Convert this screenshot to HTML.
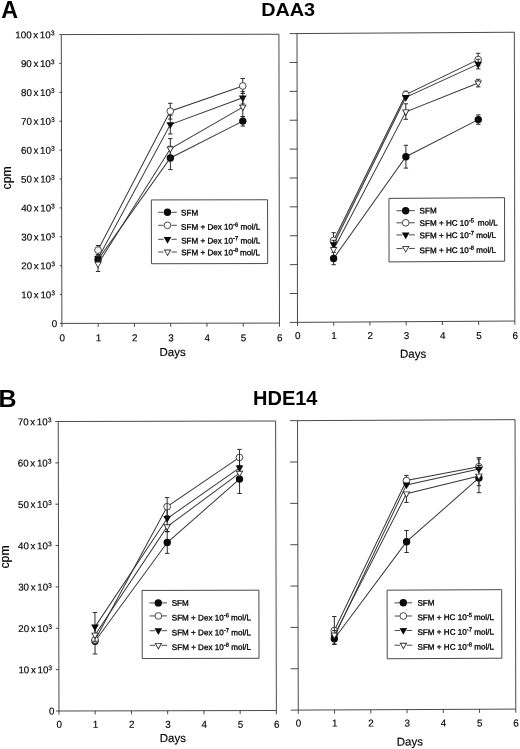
<!DOCTYPE html>
<html lang="en"><head><meta charset="utf-8"><title>Figure</title>
<style>html,body{margin:0;padding:0;background:#fff}svg{display:block;filter:grayscale(1)}</style></head>
<body>
<svg width="520" height="749" viewBox="0 0 520 749" font-family='"Liberation Sans", Arial, sans-serif' fill="#000">
<rect width="520" height="749" fill="#fff"/>
<text transform="translate(1.3,18) scale(1,1.005)" font-size="23.3" font-weight="bold" fill="#000">A</text>
<text transform="translate(261.2,15.9) scale(1,0.95)" font-size="19.8" font-weight="bold" fill="#000">DAA3</text>
<text transform="translate(-1.5,407.4) scale(1,0.99)" font-size="25" font-weight="bold" fill="#000">B</text>
<text x="253.0" y="404.8" font-size="20" font-weight="bold" fill="#000">HDE14</text>
<text transform="translate(11.1,177.8) rotate(-90)" text-anchor="middle" font-size="12.3" stroke="#000" stroke-width="0.15">cpm</text>
<text transform="translate(9.1,557) rotate(-90)" text-anchor="middle" font-size="12.3" stroke="#000" stroke-width="0.15">cpm</text>
<g transform="translate(170.40,178.82) matrix(1,-0.0015,0.002,1,0,0) translate(-170.40,-178.82)">
<rect x="61.6" y="34.4" width="217.60" height="288.85" fill="none" stroke="#2a2a2a" stroke-width="0.85"/>
<line x1="59.6" y1="323.25" x2="61.6" y2="323.25" stroke="#2a2a2a" stroke-width="0.85"/>
<text x="57.00" y="326.75" text-anchor="end" font-size="9.8" stroke="#000" stroke-width="0.15">0</text>
<line x1="59.6" y1="294.37" x2="61.6" y2="294.37" stroke="#2a2a2a" stroke-width="0.85"/>
<text x="54.90" y="297.97" text-anchor="end" font-size="9.8" word-spacing="-1.1" stroke="#000" stroke-width="0.15">10 x 10<tspan dy="-2.9" font-size="6.9">3</tspan></text>
<line x1="59.6" y1="265.48" x2="61.6" y2="265.48" stroke="#2a2a2a" stroke-width="0.85"/>
<text x="54.90" y="269.08" text-anchor="end" font-size="9.8" word-spacing="-1.1" stroke="#000" stroke-width="0.15">20 x 10<tspan dy="-2.9" font-size="6.9">3</tspan></text>
<line x1="59.6" y1="236.59" x2="61.6" y2="236.59" stroke="#2a2a2a" stroke-width="0.85"/>
<text x="54.90" y="240.19" text-anchor="end" font-size="9.8" word-spacing="-1.1" stroke="#000" stroke-width="0.15">30 x 10<tspan dy="-2.9" font-size="6.9">3</tspan></text>
<line x1="59.6" y1="207.71" x2="61.6" y2="207.71" stroke="#2a2a2a" stroke-width="0.85"/>
<text x="54.90" y="211.31" text-anchor="end" font-size="9.8" word-spacing="-1.1" stroke="#000" stroke-width="0.15">40 x 10<tspan dy="-2.9" font-size="6.9">3</tspan></text>
<line x1="59.6" y1="178.82" x2="61.6" y2="178.82" stroke="#2a2a2a" stroke-width="0.85"/>
<text x="54.90" y="182.42" text-anchor="end" font-size="9.8" word-spacing="-1.1" stroke="#000" stroke-width="0.15">50 x 10<tspan dy="-2.9" font-size="6.9">3</tspan></text>
<line x1="59.6" y1="149.94" x2="61.6" y2="149.94" stroke="#2a2a2a" stroke-width="0.85"/>
<text x="54.90" y="153.54" text-anchor="end" font-size="9.8" word-spacing="-1.1" stroke="#000" stroke-width="0.15">60 x 10<tspan dy="-2.9" font-size="6.9">3</tspan></text>
<line x1="59.6" y1="121.06" x2="61.6" y2="121.06" stroke="#2a2a2a" stroke-width="0.85"/>
<text x="54.90" y="124.66" text-anchor="end" font-size="9.8" word-spacing="-1.1" stroke="#000" stroke-width="0.15">70 x 10<tspan dy="-2.9" font-size="6.9">3</tspan></text>
<line x1="59.6" y1="92.17" x2="61.6" y2="92.17" stroke="#2a2a2a" stroke-width="0.85"/>
<text x="54.90" y="95.77" text-anchor="end" font-size="9.8" word-spacing="-1.1" stroke="#000" stroke-width="0.15">80 x 10<tspan dy="-2.9" font-size="6.9">3</tspan></text>
<line x1="59.6" y1="63.28" x2="61.6" y2="63.28" stroke="#2a2a2a" stroke-width="0.85"/>
<text x="54.90" y="66.88" text-anchor="end" font-size="9.8" word-spacing="-1.1" stroke="#000" stroke-width="0.15">90 x 10<tspan dy="-2.9" font-size="6.9">3</tspan></text>
<line x1="59.6" y1="34.40" x2="61.6" y2="34.40" stroke="#2a2a2a" stroke-width="0.85"/>
<text x="54.90" y="38.00" text-anchor="end" font-size="9.8" word-spacing="-1.1" stroke="#000" stroke-width="0.15">100 x 10<tspan dy="-2.9" font-size="6.9">3</tspan></text>
<line x1="61.60" y1="323.25" x2="61.60" y2="326.85" stroke="#2a2a2a" stroke-width="0.85"/>
<text x="61.90" y="341.04" text-anchor="middle" font-size="9.9" stroke="#000" stroke-width="0.15">0</text>
<line x1="97.87" y1="323.25" x2="97.87" y2="326.85" stroke="#2a2a2a" stroke-width="0.85"/>
<text x="98.17" y="341.09" text-anchor="middle" font-size="9.9" stroke="#000" stroke-width="0.15">1</text>
<line x1="134.13" y1="323.25" x2="134.13" y2="326.85" stroke="#2a2a2a" stroke-width="0.85"/>
<text x="134.43" y="341.15" text-anchor="middle" font-size="9.9" stroke="#000" stroke-width="0.15">2</text>
<line x1="170.40" y1="323.25" x2="170.40" y2="326.85" stroke="#2a2a2a" stroke-width="0.85"/>
<text x="170.70" y="341.20" text-anchor="middle" font-size="9.9" stroke="#000" stroke-width="0.15">3</text>
<line x1="206.67" y1="323.25" x2="206.67" y2="326.85" stroke="#2a2a2a" stroke-width="0.85"/>
<text x="206.97" y="341.25" text-anchor="middle" font-size="9.9" stroke="#000" stroke-width="0.15">4</text>
<line x1="242.93" y1="323.25" x2="242.93" y2="326.85" stroke="#2a2a2a" stroke-width="0.85"/>
<text x="243.23" y="341.31" text-anchor="middle" font-size="9.9" stroke="#000" stroke-width="0.15">5</text>
<line x1="279.20" y1="323.25" x2="279.20" y2="326.85" stroke="#2a2a2a" stroke-width="0.85"/>
<text x="279.50" y="341.36" text-anchor="middle" font-size="9.9" stroke="#000" stroke-width="0.15">6</text>
<text x="172.25" y="356.10" text-anchor="middle" font-size="11.5" stroke="#000" stroke-width="0.15">Days</text>
<polyline points="97.87,259.49 170.40,158.00 242.93,121.21" fill="none" stroke="#383838" stroke-width="1.0"/>
<path d="M97.87,259.49V256.09M97.87,259.49V262.89M95.67,256.09h4.4M95.67,262.89h4.4" fill="none" stroke="#222" stroke-width="0.95"/>
<path d="M170.40,158.00V146.30M170.40,158.00V169.60M168.20,146.30h4.4M168.20,169.60h4.4" fill="none" stroke="#222" stroke-width="0.95"/>
<path d="M242.93,121.21V116.61M242.93,121.21V126.21M240.73,116.61h4.4M240.73,126.21h4.4" fill="none" stroke="#222" stroke-width="0.95"/>
<circle cx="97.87" cy="259.49" r="3.7" fill="#0a0a0a"/>
<circle cx="170.40" cy="158.00" r="3.7" fill="#0a0a0a"/>
<circle cx="242.93" cy="121.21" r="3.7" fill="#0a0a0a"/>
<polyline points="97.87,249.99 170.40,111.20 242.93,86.11" fill="none" stroke="#383838" stroke-width="1.0"/>
<path d="M97.87,249.99V245.39M97.87,249.99V254.59M95.67,245.39h4.4M95.67,254.59h4.4" fill="none" stroke="#222" stroke-width="0.95"/>
<path d="M170.40,111.20V103.30M170.40,111.20V119.10M168.20,103.30h4.4M168.20,119.10h4.4" fill="none" stroke="#222" stroke-width="0.95"/>
<path d="M242.93,86.11V78.61M242.93,86.11V93.61M240.73,78.61h4.4M240.73,93.61h4.4" fill="none" stroke="#222" stroke-width="0.95"/>
<circle cx="97.87" cy="249.99" r="3.35" fill="#fff" stroke="#2a2a2a" stroke-width="0.85"/>
<circle cx="170.40" cy="111.20" r="3.35" fill="#fff" stroke="#2a2a2a" stroke-width="0.85"/>
<circle cx="242.93" cy="86.11" r="3.35" fill="#fff" stroke="#2a2a2a" stroke-width="0.85"/>
<polyline points="97.87,258.29 170.40,124.60 242.93,97.91" fill="none" stroke="#383838" stroke-width="1.0"/>
<path d="M97.87,258.29V254.89M97.87,258.29V261.69M95.67,254.89h4.4M95.67,261.69h4.4" fill="none" stroke="#222" stroke-width="0.95"/>
<path d="M170.40,124.60V115.20M170.40,124.60V134.00M168.20,115.20h4.4M168.20,134.00h4.4" fill="none" stroke="#222" stroke-width="0.95"/>
<path d="M242.93,97.91V91.71M242.93,97.91V104.11M240.73,91.71h4.4M240.73,104.11h4.4" fill="none" stroke="#222" stroke-width="0.95"/>
<path d="M94.02,255.89H101.72L97.87,262.64Z" fill="#0a0a0a"/>
<path d="M166.55,122.20H174.25L170.40,128.95Z" fill="#0a0a0a"/>
<path d="M239.08,95.51H246.78L242.93,102.26Z" fill="#0a0a0a"/>
<polyline points="97.87,263.89 170.40,148.80 242.93,107.21" fill="none" stroke="#383838" stroke-width="1.0"/>
<path d="M97.87,263.89V256.39M97.87,263.89V271.39M95.67,256.39h4.4M95.67,271.39h4.4" fill="none" stroke="#222" stroke-width="0.95"/>
<path d="M170.40,148.80V138.60M170.40,148.80V159.00M168.20,138.60h4.4M168.20,159.00h4.4" fill="none" stroke="#222" stroke-width="0.95"/>
<path d="M242.93,107.21V97.71M242.93,107.21V116.71M240.73,97.71h4.4M240.73,116.71h4.4" fill="none" stroke="#222" stroke-width="0.95"/>
<path d="M94.02,261.49H101.72L97.87,268.24Z" fill="#2a2a2a"/>
<path d="M95.48,262.34H100.25L97.87,266.53Z" fill="#fff"/>
<path d="M166.55,146.40H174.25L170.40,153.15Z" fill="#2a2a2a"/>
<path d="M168.01,147.25H172.79L170.40,151.43Z" fill="#fff"/>
<path d="M239.08,104.81H246.78L242.93,111.56Z" fill="#2a2a2a"/>
<path d="M240.55,105.66H245.32L242.93,109.84Z" fill="#fff"/>
<rect x="151.3" y="199.9" width="116.20" height="63.80" fill="#fff" stroke="#2a2a2a" stroke-width="0.85"/>
<path d="M158.1,212.3H163.40M171.40,212.3H176.7" stroke="#2a2a2a" stroke-width="0.85" fill="none"/>
<circle cx="167.40" cy="212.30" r="3.7" fill="#0a0a0a"/>
<text x="181.0" y="215.50" font-size="8.1" stroke="#000" stroke-width="0.3">SFM</text>
<path d="M158.1,225.3H163.40M171.40,225.3H176.7" stroke="#2a2a2a" stroke-width="0.85" fill="none"/>
<circle cx="167.40" cy="225.30" r="3.35" fill="#fff" stroke="#2a2a2a" stroke-width="0.85"/>
<text x="181.0" y="229.70" font-size="8.1" stroke="#000" stroke-width="0.3">SFM + Dex 10<tspan dy="-3.1" font-size="5.8">-6</tspan><tspan dy="3.1"> mol/L</tspan></text>
<path d="M158.1,239.3H163.40M171.40,239.3H176.7" stroke="#2a2a2a" stroke-width="0.85" fill="none"/>
<path d="M163.55,236.90H171.25L167.40,243.65Z" fill="#0a0a0a"/>
<text x="181.0" y="243.50" font-size="8.1" stroke="#000" stroke-width="0.3">SFM + Dex 10<tspan dy="-3.1" font-size="5.8">-7</tspan><tspan dy="3.1"> mol/L</tspan></text>
<path d="M158.1,252.0H163.40M171.40,252.0H176.7" stroke="#2a2a2a" stroke-width="0.85" fill="none"/>
<path d="M163.55,249.60H171.25L167.40,256.35Z" fill="#2a2a2a"/>
<path d="M165.01,250.45H169.79L167.40,254.63Z" fill="#fff"/>
<text x="181.0" y="255.30" font-size="8.1" stroke="#000" stroke-width="0.3">SFM + Dex 10<tspan dy="-3.1" font-size="5.8">-8</tspan><tspan dy="3.1" dx="-0.4"> mol/L</tspan></text>
</g>
<g transform="translate(405.93,177.30) matrix(1,-0.0061,0.0017,1,0,0) translate(-405.93,-177.30)">
<rect x="297.25" y="32.9" width="217.35" height="288.80" fill="none" stroke="#2a2a2a" stroke-width="0.85"/>
<line x1="289.75" y1="321.70" x2="297.25" y2="321.70" stroke="#2a2a2a" stroke-width="0.85"/>
<line x1="289.75" y1="292.82" x2="297.25" y2="292.82" stroke="#2a2a2a" stroke-width="0.85"/>
<line x1="289.75" y1="263.94" x2="297.25" y2="263.94" stroke="#2a2a2a" stroke-width="0.85"/>
<line x1="289.75" y1="235.06" x2="297.25" y2="235.06" stroke="#2a2a2a" stroke-width="0.85"/>
<line x1="289.75" y1="206.18" x2="297.25" y2="206.18" stroke="#2a2a2a" stroke-width="0.85"/>
<line x1="289.75" y1="177.30" x2="297.25" y2="177.30" stroke="#2a2a2a" stroke-width="0.85"/>
<line x1="289.75" y1="148.42" x2="297.25" y2="148.42" stroke="#2a2a2a" stroke-width="0.85"/>
<line x1="289.75" y1="119.54" x2="297.25" y2="119.54" stroke="#2a2a2a" stroke-width="0.85"/>
<line x1="289.75" y1="90.66" x2="297.25" y2="90.66" stroke="#2a2a2a" stroke-width="0.85"/>
<line x1="289.75" y1="61.78" x2="297.25" y2="61.78" stroke="#2a2a2a" stroke-width="0.85"/>
<line x1="289.75" y1="32.90" x2="297.25" y2="32.90" stroke="#2a2a2a" stroke-width="0.85"/>
<line x1="297.25" y1="321.7" x2="297.25" y2="325.3" stroke="#2a2a2a" stroke-width="0.85"/>
<text x="297.55" y="338.24" text-anchor="middle" font-size="9.9" stroke="#000" stroke-width="0.15">0</text>
<line x1="333.48" y1="321.7" x2="333.48" y2="325.3" stroke="#2a2a2a" stroke-width="0.85"/>
<text x="333.78" y="338.46" text-anchor="middle" font-size="9.9" stroke="#000" stroke-width="0.15">1</text>
<line x1="369.70" y1="321.7" x2="369.70" y2="325.3" stroke="#2a2a2a" stroke-width="0.85"/>
<text x="370.00" y="338.68" text-anchor="middle" font-size="9.9" stroke="#000" stroke-width="0.15">2</text>
<line x1="405.93" y1="321.7" x2="405.93" y2="325.3" stroke="#2a2a2a" stroke-width="0.85"/>
<text x="406.23" y="338.90" text-anchor="middle" font-size="9.9" stroke="#000" stroke-width="0.15">3</text>
<line x1="442.15" y1="321.7" x2="442.15" y2="325.3" stroke="#2a2a2a" stroke-width="0.85"/>
<text x="442.45" y="339.12" text-anchor="middle" font-size="9.9" stroke="#000" stroke-width="0.15">4</text>
<line x1="478.38" y1="321.7" x2="478.38" y2="325.3" stroke="#2a2a2a" stroke-width="0.85"/>
<text x="478.68" y="339.34" text-anchor="middle" font-size="9.9" stroke="#000" stroke-width="0.15">5</text>
<line x1="514.60" y1="321.7" x2="514.60" y2="325.3" stroke="#2a2a2a" stroke-width="0.85"/>
<text x="514.90" y="339.56" text-anchor="middle" font-size="9.9" stroke="#000" stroke-width="0.15">6</text>
<text x="412.79" y="357.84" text-anchor="middle" font-size="11.5" stroke="#000" stroke-width="0.15">Days</text>
<polygon points="333.48,239.96 405.93,94.60 405.93,97.30 333.48,244.16" fill="#999"/>
<polyline points="333.48,258.06 405.93,156.70 478.38,120.04" fill="none" stroke="#383838" stroke-width="1.0"/>
<path d="M333.48,258.06V251.86M333.48,258.06V264.26M331.28,251.86h4.4M331.28,264.26h4.4" fill="none" stroke="#222" stroke-width="0.95"/>
<path d="M405.93,156.70V145.30M405.93,156.70V168.10M403.73,145.30h4.4M403.73,168.10h4.4" fill="none" stroke="#222" stroke-width="0.95"/>
<path d="M478.38,120.04V115.34M478.38,120.04V124.74M476.18,115.34h4.4M476.18,124.74h4.4" fill="none" stroke="#222" stroke-width="0.95"/>
<circle cx="333.48" cy="258.06" r="3.7" fill="#0a0a0a"/>
<circle cx="405.93" cy="156.70" r="3.7" fill="#0a0a0a"/>
<circle cx="478.38" cy="120.04" r="3.7" fill="#0a0a0a"/>
<polyline points="333.48,239.96 405.93,94.60 478.38,60.04" fill="none" stroke="#383838" stroke-width="1.0"/>
<path d="M333.48,239.96V232.26M333.48,239.96V247.66M331.28,232.26h4.4M331.28,247.66h4.4" fill="none" stroke="#222" stroke-width="0.95"/>
<path d="M405.93,94.60V91.20M405.93,94.60V98.00M403.73,91.20h4.4M403.73,98.00h4.4" fill="none" stroke="#222" stroke-width="0.95"/>
<path d="M478.38,60.04V53.74M478.38,60.04V66.34M476.18,53.74h4.4M476.18,66.34h4.4" fill="none" stroke="#222" stroke-width="0.95"/>
<circle cx="333.48" cy="239.96" r="3.35" fill="#fff" stroke="#2a2a2a" stroke-width="0.85"/>
<circle cx="405.93" cy="94.60" r="3.35" fill="#fff" stroke="#2a2a2a" stroke-width="0.85"/>
<circle cx="478.38" cy="60.04" r="3.35" fill="#fff" stroke="#2a2a2a" stroke-width="0.85"/>
<polyline points="333.48,244.16 405.93,97.30 478.38,64.54" fill="none" stroke="#383838" stroke-width="1.0"/>
<path d="M333.48,244.16V239.86M333.48,244.16V248.56M331.28,239.86h4.4M331.28,248.56h4.4" fill="none" stroke="#222" stroke-width="0.95"/>
<path d="M478.38,64.54V59.74M478.38,64.54V69.34M476.18,59.74h4.4M476.18,69.34h4.4" fill="none" stroke="#222" stroke-width="0.95"/>
<path d="M329.62,241.76H337.33L333.48,248.51Z" fill="#0a0a0a"/>
<path d="M402.07,94.90H409.78L405.93,101.65Z" fill="#0a0a0a"/>
<path d="M474.52,62.14H482.23L478.38,68.89Z" fill="#0a0a0a"/>
<polyline points="333.48,249.06 405.93,111.80 478.38,83.44" fill="none" stroke="#383838" stroke-width="1.0"/>
<path d="M405.93,111.80V103.80M405.93,111.80V119.30M403.73,103.80h4.4M403.73,119.30h4.4" fill="none" stroke="#222" stroke-width="0.95"/>
<path d="M478.38,83.44V79.74M478.38,83.44V87.34M476.18,79.74h4.4M476.18,87.34h4.4" fill="none" stroke="#222" stroke-width="0.95"/>
<path d="M329.62,246.66H337.33L333.48,253.41Z" fill="#2a2a2a"/>
<path d="M331.09,247.51H335.86L333.48,251.69Z" fill="#fff"/>
<path d="M402.07,109.40H409.78L405.93,116.15Z" fill="#2a2a2a"/>
<path d="M403.54,110.25H408.31L405.93,114.43Z" fill="#fff"/>
<path d="M474.52,81.04H482.23L478.38,87.79Z" fill="#2a2a2a"/>
<path d="M475.99,81.89H480.76L478.38,86.08Z" fill="#fff"/>
<rect x="388.9" y="198.3" width="115.60" height="63.50" fill="#fff" stroke="#2a2a2a" stroke-width="0.85"/>
<path d="M396.4,210.7H402.30M408.90,210.7H414.8" stroke="#2a2a2a" stroke-width="0.85" fill="none"/>
<circle cx="405.60" cy="210.70" r="3.7" fill="#0a0a0a"/>
<text x="419.5" y="213.50" font-size="8.1" stroke="#000" stroke-width="0.3">SFM</text>
<path d="M396.4,222.8H402.30M408.90,222.8H414.8" stroke="#2a2a2a" stroke-width="0.85" fill="none"/>
<circle cx="405.60" cy="222.80" r="3.35" fill="#fff" stroke="#2a2a2a" stroke-width="0.85"/>
<text x="419.5" y="226.00" font-size="8.1" stroke="#000" stroke-width="0.3">SFM + HC 10<tspan dy="-3.1" font-size="5.8">-5</tspan><tspan dy="3.1" dx="1.6"> mol/L</tspan></text>
<path d="M396.4,234.9H402.30M408.90,234.9H414.8" stroke="#2a2a2a" stroke-width="0.85" fill="none"/>
<path d="M401.75,232.50H409.45L405.60,239.25Z" fill="#0a0a0a"/>
<text x="419.5" y="238.40" font-size="8.1" stroke="#000" stroke-width="0.3">SFM + HC 10<tspan dy="-3.1" font-size="5.8">-7</tspan><tspan dy="3.1"> mol/L</tspan></text>
<path d="M396.4,248.5H402.30M408.90,248.5H414.8" stroke="#2a2a2a" stroke-width="0.85" fill="none"/>
<path d="M401.75,246.10H409.45L405.60,252.85Z" fill="#2a2a2a"/>
<path d="M403.21,246.95H407.99L405.60,251.13Z" fill="#fff"/>
<text x="419.5" y="253.30" font-size="8.1" stroke="#000" stroke-width="0.3">SFM + HC 10<tspan dy="-3.1" font-size="5.8">-8</tspan><tspan dy="3.1"> mol/L</tspan></text>
</g>
<g transform="translate(167.30,566.00) matrix(1,-0.0023,0.0026,1,0,0) translate(-167.30,-566.00)">
<rect x="58.6" y="421.25" width="217.40" height="289.50" fill="none" stroke="#2a2a2a" stroke-width="0.85"/>
<line x1="55.6" y1="710.75" x2="58.6" y2="710.75" stroke="#2a2a2a" stroke-width="0.85"/>
<text x="54.00" y="714.25" text-anchor="end" font-size="9.8" stroke="#000" stroke-width="0.15">0</text>
<line x1="55.6" y1="669.39" x2="58.6" y2="669.39" stroke="#2a2a2a" stroke-width="0.85"/>
<text x="51.90" y="672.99" text-anchor="end" font-size="9.8" word-spacing="-1.1" stroke="#000" stroke-width="0.15">10 x 10<tspan dy="-2.9" font-size="6.9">3</tspan></text>
<line x1="55.6" y1="628.04" x2="58.6" y2="628.04" stroke="#2a2a2a" stroke-width="0.85"/>
<text x="51.90" y="631.64" text-anchor="end" font-size="9.8" word-spacing="-1.1" stroke="#000" stroke-width="0.15">20 x 10<tspan dy="-2.9" font-size="6.9">3</tspan></text>
<line x1="55.6" y1="586.68" x2="58.6" y2="586.68" stroke="#2a2a2a" stroke-width="0.85"/>
<text x="51.90" y="590.28" text-anchor="end" font-size="9.8" word-spacing="-1.1" stroke="#000" stroke-width="0.15">30 x 10<tspan dy="-2.9" font-size="6.9">3</tspan></text>
<line x1="55.6" y1="545.32" x2="58.6" y2="545.32" stroke="#2a2a2a" stroke-width="0.85"/>
<text x="51.90" y="548.92" text-anchor="end" font-size="9.8" word-spacing="-1.1" stroke="#000" stroke-width="0.15">40 x 10<tspan dy="-2.9" font-size="6.9">3</tspan></text>
<line x1="55.6" y1="503.96" x2="58.6" y2="503.96" stroke="#2a2a2a" stroke-width="0.85"/>
<text x="51.90" y="507.56" text-anchor="end" font-size="9.8" word-spacing="-1.1" stroke="#000" stroke-width="0.15">50 x 10<tspan dy="-2.9" font-size="6.9">3</tspan></text>
<line x1="55.6" y1="462.61" x2="58.6" y2="462.61" stroke="#2a2a2a" stroke-width="0.85"/>
<text x="51.90" y="466.21" text-anchor="end" font-size="9.8" word-spacing="-1.1" stroke="#000" stroke-width="0.15">60 x 10<tspan dy="-2.9" font-size="6.9">3</tspan></text>
<line x1="55.6" y1="421.25" x2="58.6" y2="421.25" stroke="#2a2a2a" stroke-width="0.85"/>
<text x="51.90" y="424.85" text-anchor="end" font-size="9.8" word-spacing="-1.1" stroke="#000" stroke-width="0.15">70 x 10<tspan dy="-2.9" font-size="6.9">3</tspan></text>
<line x1="58.60" y1="710.75" x2="58.60" y2="714.35" stroke="#2a2a2a" stroke-width="0.85"/>
<text x="58.90" y="727.55" text-anchor="middle" font-size="9.9" stroke="#000" stroke-width="0.15">0</text>
<line x1="94.83" y1="710.75" x2="94.83" y2="714.35" stroke="#2a2a2a" stroke-width="0.85"/>
<text x="95.13" y="727.63" text-anchor="middle" font-size="9.9" stroke="#000" stroke-width="0.15">1</text>
<line x1="131.07" y1="710.75" x2="131.07" y2="714.35" stroke="#2a2a2a" stroke-width="0.85"/>
<text x="131.37" y="727.72" text-anchor="middle" font-size="9.9" stroke="#000" stroke-width="0.15">2</text>
<line x1="167.30" y1="710.75" x2="167.30" y2="714.35" stroke="#2a2a2a" stroke-width="0.85"/>
<text x="167.60" y="727.80" text-anchor="middle" font-size="9.9" stroke="#000" stroke-width="0.15">3</text>
<line x1="203.53" y1="710.75" x2="203.53" y2="714.35" stroke="#2a2a2a" stroke-width="0.85"/>
<text x="203.83" y="727.88" text-anchor="middle" font-size="9.9" stroke="#000" stroke-width="0.15">4</text>
<line x1="239.77" y1="710.75" x2="239.77" y2="714.35" stroke="#2a2a2a" stroke-width="0.85"/>
<text x="240.07" y="727.97" text-anchor="middle" font-size="9.9" stroke="#000" stroke-width="0.15">5</text>
<line x1="276.00" y1="710.75" x2="276.00" y2="714.35" stroke="#2a2a2a" stroke-width="0.85"/>
<text x="276.30" y="728.05" text-anchor="middle" font-size="9.9" stroke="#000" stroke-width="0.15">6</text>
<text x="172.44" y="742.01" text-anchor="middle" font-size="11.5" stroke="#000" stroke-width="0.15">Days</text>
<polyline points="94.83,641.03 167.30,542.50 239.77,479.27" fill="none" stroke="#383838" stroke-width="1.0"/>
<path d="M167.30,542.50V531.60M167.30,542.50V553.40M165.10,531.60h4.4M165.10,553.40h4.4" fill="none" stroke="#222" stroke-width="0.95"/>
<path d="M239.77,479.27V493.67M237.57,493.67h4.4" fill="none" stroke="#222" stroke-width="0.95"/>
<circle cx="94.83" cy="641.03" r="3.7" fill="#0a0a0a"/>
<circle cx="167.30" cy="542.50" r="3.7" fill="#0a0a0a"/>
<circle cx="239.77" cy="479.27" r="3.7" fill="#0a0a0a"/>
<polyline points="94.83,639.73 167.30,506.70 239.77,457.57" fill="none" stroke="#383838" stroke-width="1.0"/>
<path d="M94.83,639.73V625.63M94.83,639.73V653.83M92.63,625.63h4.4M92.63,653.83h4.4" fill="none" stroke="#222" stroke-width="0.95"/>
<path d="M167.30,506.70V497.60M167.30,506.70V515.80M165.10,497.60h4.4M165.10,515.80h4.4" fill="none" stroke="#222" stroke-width="0.95"/>
<path d="M239.77,457.57V449.57M239.77,457.57V465.57M237.57,449.57h4.4M237.57,465.57h4.4" fill="none" stroke="#222" stroke-width="0.95"/>
<circle cx="94.83" cy="639.73" r="3.35" fill="#fff" stroke="#2a2a2a" stroke-width="0.85"/>
<circle cx="167.30" cy="506.70" r="3.35" fill="#fff" stroke="#2a2a2a" stroke-width="0.85"/>
<circle cx="239.77" cy="457.57" r="3.35" fill="#fff" stroke="#2a2a2a" stroke-width="0.85"/>
<polyline points="94.83,626.73 167.30,518.50 239.77,467.97" fill="none" stroke="#383838" stroke-width="1.0"/>
<path d="M94.83,626.73V612.33M94.83,626.73V641.13M92.63,612.33h4.4M92.63,641.13h4.4" fill="none" stroke="#222" stroke-width="0.95"/>
<path d="M167.30,518.50V503.40M167.30,518.50V531.50M165.10,531.50h4.4" fill="none" stroke="#222" stroke-width="0.95"/>
<path d="M239.77,467.97V454.17" fill="none" stroke="#222" stroke-width="0.95"/>
<path d="M90.98,624.33H98.68L94.83,631.08Z" fill="#0a0a0a"/>
<path d="M163.45,516.10H171.15L167.30,522.85Z" fill="#0a0a0a"/>
<path d="M235.92,465.57H243.62L239.77,472.32Z" fill="#0a0a0a"/>
<polyline points="94.83,634.93 167.30,526.70 239.77,473.37" fill="none" stroke="#383838" stroke-width="1.0"/>
<path d="M167.30,526.70V531.70M165.10,531.70h4.4" fill="none" stroke="#222" stroke-width="0.95"/>
<path d="M90.98,632.53H98.68L94.83,639.28Z" fill="#2a2a2a"/>
<path d="M92.45,633.38H97.22L94.83,637.57Z" fill="#fff"/>
<path d="M163.45,524.30H171.15L167.30,531.05Z" fill="#2a2a2a"/>
<path d="M164.91,525.15H169.69L167.30,529.33Z" fill="#fff"/>
<path d="M235.92,470.97H243.62L239.77,477.72Z" fill="#2a2a2a"/>
<path d="M237.38,471.82H242.15L239.77,476.00Z" fill="#fff"/>
<rect x="142.0" y="590.4" width="116.80" height="68.10" fill="#fff" stroke="#2a2a2a" stroke-width="0.85"/>
<path d="M149.4,602.9H154.90M161.50,602.9H166.9" stroke="#2a2a2a" stroke-width="0.85" fill="none"/>
<circle cx="158.20" cy="602.90" r="3.7" fill="#0a0a0a"/>
<text x="171.6" y="605.80" font-size="8.1" stroke="#000" stroke-width="0.3">SFM</text>
<path d="M149.4,615.9H154.90M161.50,615.9H166.9" stroke="#2a2a2a" stroke-width="0.85" fill="none"/>
<circle cx="158.20" cy="615.90" r="3.35" fill="#fff" stroke="#2a2a2a" stroke-width="0.85"/>
<text x="171.6" y="620.50" font-size="8.1" stroke="#000" stroke-width="0.3">SFM + Dex 10<tspan dy="-3.1" font-size="5.8">-6</tspan><tspan dy="3.1"> mol/L</tspan></text>
<path d="M149.4,630.7H154.90M161.50,630.7H166.9" stroke="#2a2a2a" stroke-width="0.85" fill="none"/>
<path d="M154.35,628.30H162.05L158.20,635.05Z" fill="#0a0a0a"/>
<text x="171.6" y="635.40" font-size="8.1" stroke="#000" stroke-width="0.3">SFM + Dex 10<tspan dy="-3.1" font-size="5.8">-7</tspan><tspan dy="3.1"> mol/L</tspan></text>
<path d="M149.4,645.3H154.90M161.50,645.3H166.9" stroke="#2a2a2a" stroke-width="0.85" fill="none"/>
<path d="M154.35,642.90H162.05L158.20,649.65Z" fill="#2a2a2a"/>
<path d="M155.81,643.75H160.59L158.20,647.93Z" fill="#fff"/>
<text x="171.6" y="650.00" font-size="8.1" stroke="#000" stroke-width="0.3">SFM + Dex 10<tspan dy="-3.1" font-size="5.8">-8</tspan><tspan dy="3.1"> mol/L</tspan></text>
</g>
<g transform="translate(406.65,564.88) matrix(1,-0.0046,0.0026,1,0,0) translate(-406.65,-564.88)">
<rect x="297.9" y="420.15" width="217.50" height="289.45" fill="none" stroke="#2a2a2a" stroke-width="0.85"/>
<line x1="290.4" y1="709.60" x2="297.9" y2="709.60" stroke="#2a2a2a" stroke-width="0.85"/>
<line x1="290.4" y1="668.25" x2="297.9" y2="668.25" stroke="#2a2a2a" stroke-width="0.85"/>
<line x1="290.4" y1="626.90" x2="297.9" y2="626.90" stroke="#2a2a2a" stroke-width="0.85"/>
<line x1="290.4" y1="585.55" x2="297.9" y2="585.55" stroke="#2a2a2a" stroke-width="0.85"/>
<line x1="290.4" y1="544.20" x2="297.9" y2="544.20" stroke="#2a2a2a" stroke-width="0.85"/>
<line x1="290.4" y1="502.85" x2="297.9" y2="502.85" stroke="#2a2a2a" stroke-width="0.85"/>
<line x1="290.4" y1="461.50" x2="297.9" y2="461.50" stroke="#2a2a2a" stroke-width="0.85"/>
<line x1="290.4" y1="420.15" x2="297.9" y2="420.15" stroke="#2a2a2a" stroke-width="0.85"/>
<line x1="297.90" y1="709.6" x2="297.90" y2="713.2" stroke="#2a2a2a" stroke-width="0.85"/>
<text x="298.20" y="726.10" text-anchor="middle" font-size="9.9" stroke="#000" stroke-width="0.15">0</text>
<line x1="334.15" y1="709.6" x2="334.15" y2="713.2" stroke="#2a2a2a" stroke-width="0.85"/>
<text x="334.45" y="726.27" text-anchor="middle" font-size="9.9" stroke="#000" stroke-width="0.15">1</text>
<line x1="370.40" y1="709.6" x2="370.40" y2="713.2" stroke="#2a2a2a" stroke-width="0.85"/>
<text x="370.70" y="726.43" text-anchor="middle" font-size="9.9" stroke="#000" stroke-width="0.15">2</text>
<line x1="406.65" y1="709.6" x2="406.65" y2="713.2" stroke="#2a2a2a" stroke-width="0.85"/>
<text x="406.95" y="726.60" text-anchor="middle" font-size="9.9" stroke="#000" stroke-width="0.15">3</text>
<line x1="442.90" y1="709.6" x2="442.90" y2="713.2" stroke="#2a2a2a" stroke-width="0.85"/>
<text x="443.20" y="726.77" text-anchor="middle" font-size="9.9" stroke="#000" stroke-width="0.15">4</text>
<line x1="479.15" y1="709.6" x2="479.15" y2="713.2" stroke="#2a2a2a" stroke-width="0.85"/>
<text x="479.45" y="726.93" text-anchor="middle" font-size="9.9" stroke="#000" stroke-width="0.15">5</text>
<line x1="515.40" y1="709.6" x2="515.40" y2="713.2" stroke="#2a2a2a" stroke-width="0.85"/>
<text x="515.70" y="727.10" text-anchor="middle" font-size="9.9" stroke="#000" stroke-width="0.15">6</text>
<text x="409.43" y="745.61" text-anchor="middle" font-size="11.5" stroke="#000" stroke-width="0.15">Days</text>
<polyline points="334.15,638.47 406.65,541.70 479.15,478.23" fill="none" stroke="#383838" stroke-width="1.0"/>
<path d="M334.15,638.47V643.67M331.95,643.67h4.4" fill="none" stroke="#222" stroke-width="0.95"/>
<path d="M406.65,541.70V530.50M406.65,541.70V552.50M404.45,530.50h4.4M404.45,552.50h4.4" fill="none" stroke="#222" stroke-width="0.95"/>
<path d="M479.15,478.23V493.03M476.95,493.03h4.4" fill="none" stroke="#222" stroke-width="0.95"/>
<circle cx="334.15" cy="638.47" r="3.7" fill="#0a0a0a"/>
<circle cx="406.65" cy="541.70" r="3.7" fill="#0a0a0a"/>
<circle cx="479.15" cy="478.23" r="3.7" fill="#0a0a0a"/>
<polyline points="334.15,630.17 406.65,480.50 479.15,467.03" fill="none" stroke="#383838" stroke-width="1.0"/>
<path d="M334.15,630.17V616.17M334.15,630.17V644.17M331.95,616.17h4.4M331.95,644.17h4.4" fill="none" stroke="#222" stroke-width="0.95"/>
<path d="M406.65,480.50V475.40M406.65,480.50V485.60M404.45,475.40h4.4M404.45,485.60h4.4" fill="none" stroke="#222" stroke-width="0.95"/>
<path d="M479.15,467.03V457.93M476.95,457.93h4.4" fill="none" stroke="#222" stroke-width="0.95"/>
<circle cx="334.15" cy="630.17" r="3.35" fill="#fff" stroke="#2a2a2a" stroke-width="0.85"/>
<circle cx="406.65" cy="480.50" r="3.35" fill="#fff" stroke="#2a2a2a" stroke-width="0.85"/>
<circle cx="479.15" cy="467.03" r="3.35" fill="#fff" stroke="#2a2a2a" stroke-width="0.85"/>
<polyline points="334.15,636.47 406.65,484.90 479.15,469.43" fill="none" stroke="#383838" stroke-width="1.0"/>
<path d="M334.15,636.47V626.67M331.95,630.27h4.4" fill="none" stroke="#222" stroke-width="0.95"/>
<path d="M479.15,469.43V459.43M476.95,459.43h4.4" fill="none" stroke="#222" stroke-width="0.95"/>
<path d="M330.30,634.07H338.00L334.15,640.82Z" fill="#0a0a0a"/>
<path d="M402.80,482.50H410.50L406.65,489.25Z" fill="#0a0a0a"/>
<path d="M475.30,467.03H483.00L479.15,473.78Z" fill="#0a0a0a"/>
<polyline points="334.15,634.77 406.65,493.80 479.15,476.43" fill="none" stroke="#383838" stroke-width="1.0"/>
<path d="M406.65,493.80V502.40M404.45,502.40h4.4" fill="none" stroke="#222" stroke-width="0.95"/>
<path d="M479.15,476.43V465.93M479.15,476.43V486.03M476.95,465.93h4.4M476.95,486.03h4.4" fill="none" stroke="#222" stroke-width="0.95"/>
<path d="M330.30,632.37H338.00L334.15,639.12Z" fill="#2a2a2a"/>
<path d="M331.76,633.22H336.54L334.15,637.40Z" fill="#fff"/>
<path d="M402.80,491.40H410.50L406.65,498.15Z" fill="#2a2a2a"/>
<path d="M404.26,492.25H409.04L406.65,496.43Z" fill="#fff"/>
<path d="M475.30,474.03H483.00L479.15,480.78Z" fill="#2a2a2a"/>
<path d="M476.76,474.88H481.54L479.15,479.07Z" fill="#fff"/>
<rect x="387.0" y="590.1" width="114.60" height="68.55" fill="#fff" stroke="#2a2a2a" stroke-width="0.85"/>
<path d="M394.4,602.8H399.90M406.50,602.8H412.0" stroke="#2a2a2a" stroke-width="0.85" fill="none"/>
<circle cx="403.20" cy="602.80" r="3.7" fill="#0a0a0a"/>
<text x="417.3" y="605.70" font-size="8.1" stroke="#000" stroke-width="0.3">SFM</text>
<path d="M394.4,616.0H399.90M406.50,616.0H412.0" stroke="#2a2a2a" stroke-width="0.85" fill="none"/>
<circle cx="403.20" cy="616.00" r="3.35" fill="#fff" stroke="#2a2a2a" stroke-width="0.85"/>
<text x="417.3" y="620.30" font-size="8.1" stroke="#000" stroke-width="0.3">SFM + HC 10<tspan dy="-3.1" font-size="5.8">-5</tspan><tspan dy="3.1"> mol/L</tspan></text>
<path d="M394.4,630.5H399.90M406.50,630.5H412.0" stroke="#2a2a2a" stroke-width="0.85" fill="none"/>
<path d="M399.35,628.10H407.05L403.20,634.85Z" fill="#0a0a0a"/>
<text x="417.3" y="635.00" font-size="8.1" stroke="#000" stroke-width="0.3">SFM + HC 10<tspan dy="-3.1" font-size="5.8">-7</tspan><tspan dy="3.1"> mol/L</tspan></text>
<path d="M394.4,645.2H399.90M406.50,645.2H412.0" stroke="#2a2a2a" stroke-width="0.85" fill="none"/>
<path d="M399.35,642.80H407.05L403.20,649.55Z" fill="#2a2a2a"/>
<path d="M400.81,643.65H405.59L403.20,647.83Z" fill="#fff"/>
<text x="417.3" y="649.90" font-size="8.1" stroke="#000" stroke-width="0.3">SFM + HC 10<tspan dy="-3.1" font-size="5.8">-8</tspan><tspan dy="3.1"> mol/L</tspan></text>
</g>
</svg>
</body></html>
